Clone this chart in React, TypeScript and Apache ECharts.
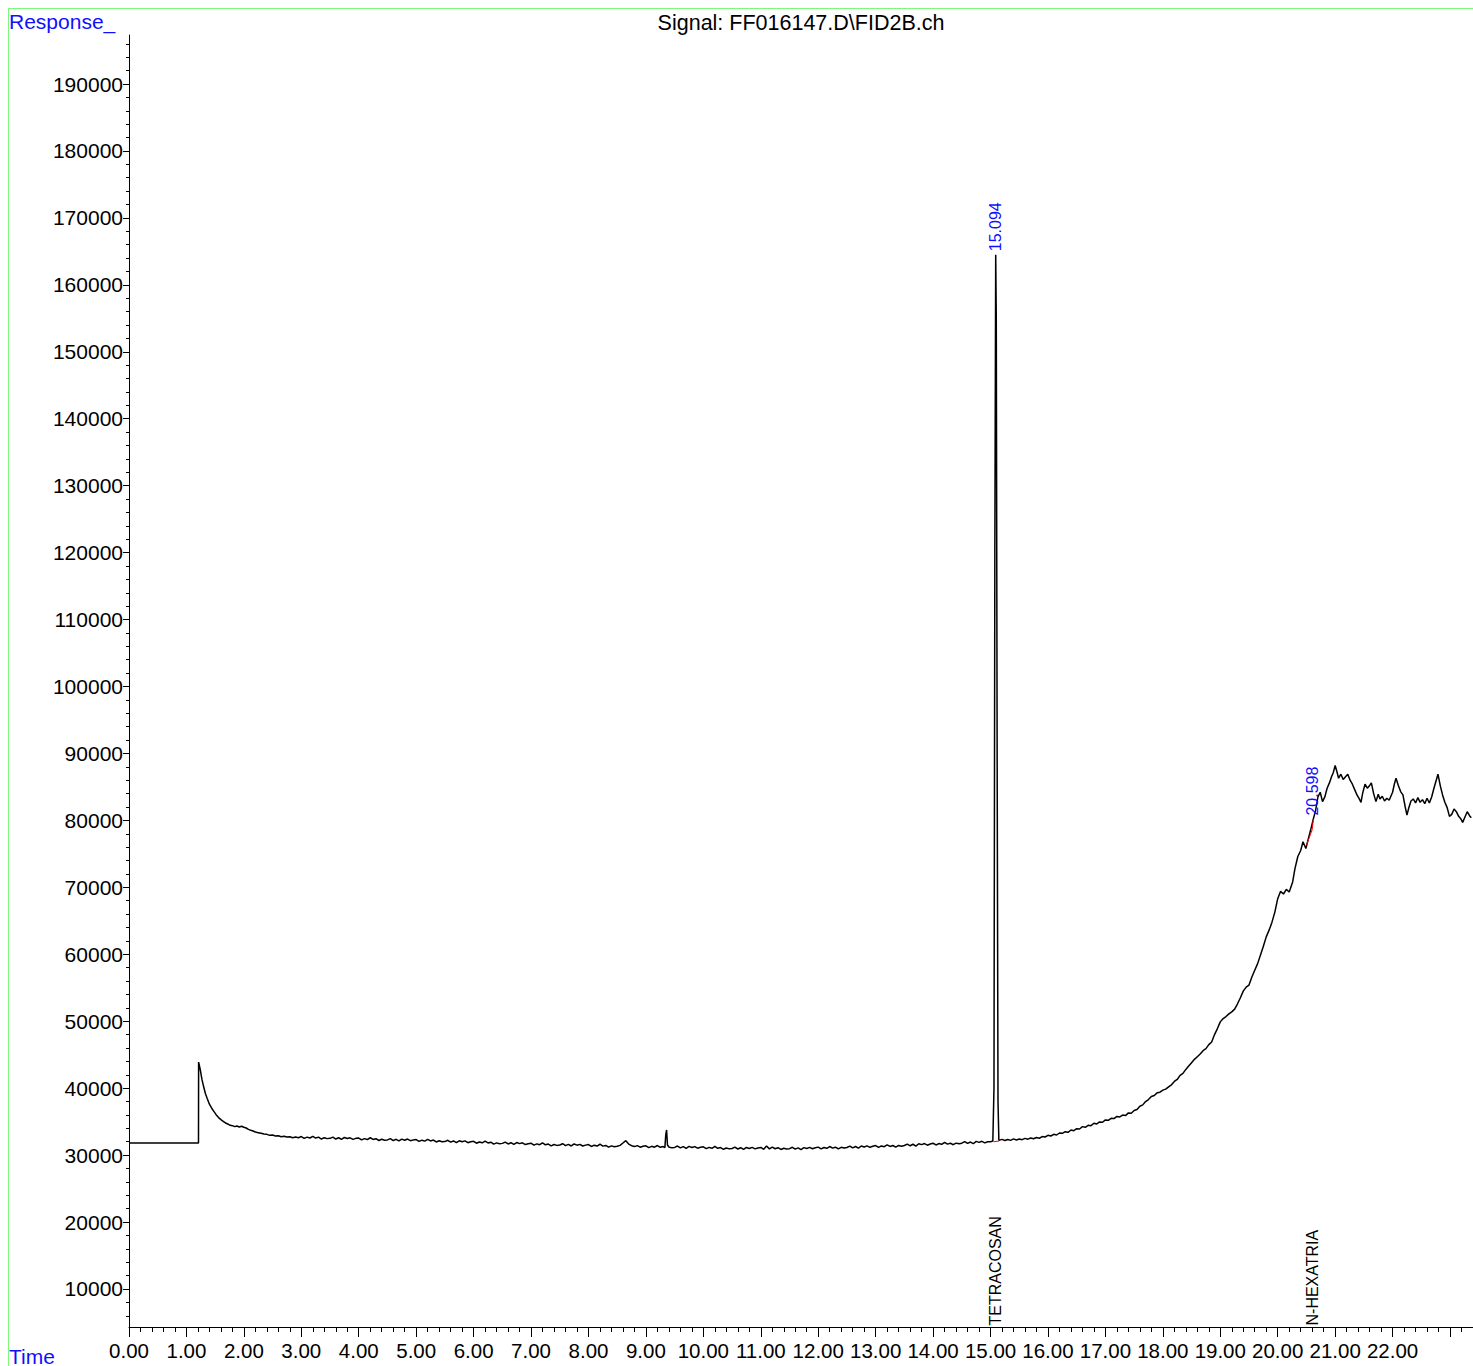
import React, { useEffect, useRef } from 'react';
import * as echarts from 'echarts';

// Retention time (min) and detector response
const times: number[] = [
  0, 1.21, 1.212, 1.24, 1.27, 1.30, 1.33, 1.36, 1.40, 1.44, 1.48, 1.52, 1.56, 1.60, 1.64, 1.68, 1.72, 1.76, 1.80, 1.84,
  1.88, 1.92, 1.96, 2.00, 2.04, 2.08, 2.12, 2.16, 2.20, 2.25, 2.30, 2.35, 2.40, 2.45, 2.50, 2.55, 2.60, 2.65, 2.70, 2.75,
  2.80, 2.85, 2.90, 2.95,
  3.00, 3.05, 3.10, 3.15, 3.20, 3.25, 3.30, 3.35, 3.40, 3.45,
  3.50, 3.55, 3.60, 3.65, 3.70, 3.75, 3.80, 3.85, 3.90, 3.95,
  4.00, 4.05, 4.10, 4.15, 4.20, 4.25, 4.30, 4.35, 4.40, 4.45,
  4.50, 4.55, 4.60, 4.65, 4.70, 4.75, 4.80, 4.85, 4.90, 4.95,
  5.00, 5.05, 5.10, 5.15, 5.20, 5.25, 5.30, 5.35, 5.40, 5.45,
  5.50, 5.55, 5.60, 5.65, 5.70, 5.75, 5.80, 5.85, 5.90, 5.95,
  6.00, 6.05, 6.10, 6.15, 6.20, 6.25, 6.30, 6.35, 6.40, 6.45,
  6.50, 6.55, 6.60, 6.65, 6.70, 6.75, 6.80, 6.85, 6.90, 6.95,
  7.00, 7.05, 7.10, 7.15, 7.20, 7.25, 7.30, 7.35, 7.40, 7.45,
  7.50, 7.55, 7.60, 7.65, 7.70, 7.75, 7.80, 7.85, 7.90, 7.95,
  8.00, 8.05, 8.10, 8.15, 8.20, 8.25, 8.30, 8.35, 8.40, 8.45,
  8.50, 8.55, 8.60, 8.65, 8.70, 8.75, 8.80, 8.85, 8.90, 8.95,
  9.00, 9.05, 9.10, 9.15, 9.20, 9.25, 9.30, 9.33, 9.345, 9.36, 9.375, 9.40, 9.45,
  9.50, 9.55, 9.60, 9.65, 9.70, 9.75, 9.80, 9.85, 9.90, 9.95,
  10.00, 10.05, 10.10, 10.15, 10.20, 10.25, 10.30, 10.35, 10.40, 10.45,
  10.50, 10.55, 10.60, 10.65, 10.70, 10.75, 10.80, 10.85, 10.90, 10.95,
  11.00, 11.05, 11.10, 11.15, 11.20, 11.25, 11.30, 11.35, 11.40, 11.45,
  11.50, 11.55, 11.60, 11.65, 11.70, 11.75, 11.80, 11.85, 11.90, 11.95,
  12.00, 12.05, 12.10, 12.15, 12.20, 12.25, 12.30, 12.35, 12.40, 12.45,
  12.50, 12.55, 12.60, 12.65, 12.70, 12.75, 12.80, 12.85, 12.90, 12.95,
  13.00, 13.05, 13.10, 13.15, 13.20, 13.25, 13.30, 13.35, 13.40, 13.45,
  13.50, 13.55, 13.60, 13.65, 13.70, 13.75, 13.80, 13.85, 13.90, 13.95,
  14.00, 14.05, 14.10, 14.15, 14.20, 14.25, 14.30, 14.35, 14.40, 14.45,
  14.50, 14.55, 14.60, 14.65, 14.70, 14.75, 14.80, 14.85, 14.90, 14.95,
  15.00, 15.04, 15.06, 15.075, 15.09, 15.10, 15.115, 15.13, 15.145,
  15.20, 15.25, 15.30, 15.35, 15.40, 15.45, 15.50, 15.55, 15.60, 15.65,
  15.70, 15.75, 15.80, 15.85, 15.90, 15.95, 16.00, 16.05, 16.10, 16.15,
  16.20, 16.25, 16.30, 16.35, 16.40, 16.45, 16.50, 16.55, 16.60, 16.65,
  16.70, 16.75, 16.80, 16.85, 16.90, 16.95, 17.00, 17.05, 17.10, 17.15,
  17.20, 17.25, 17.30, 17.35, 17.40, 17.45, 17.50, 17.55, 17.60, 17.65,
  17.70, 17.75, 17.80, 17.85, 17.90, 17.95, 18.00, 18.05, 18.10, 18.15,
  18.20, 18.25, 18.30, 18.35, 18.40, 18.45, 18.50, 18.55, 18.60, 18.65,
  18.70, 18.75, 18.80, 18.85, 18.90, 18.95, 19.00, 19.05, 19.10, 19.15,
  19.20, 19.25, 19.30, 19.35, 19.40, 19.45, 19.50, 19.55, 19.60, 19.65,
  19.70, 19.75, 19.80, 19.85, 19.90, 19.95, 20.00, 20.05, 20.10, 20.15,
  20.20, 20.26, 20.30, 20.35, 20.40, 20.44,
  20.49, 20.54, 20.58, 20.62, 20.66, 20.7, 20.74, 20.78, 20.82, 20.86, 20.9, 20.94, 20.97, 21.0, 21.03, 21.06, 21.1, 21.14, 21.18, 21.22,
  21.26, 21.3, 21.34, 21.38, 21.42, 21.45, 21.48, 21.52, 21.56, 21.6, 21.63, 21.67, 21.71, 21.75, 21.78, 21.82, 21.86, 21.9, 21.94, 21.97,
  22.0, 22.03, 22.06, 22.1, 22.14, 22.18, 22.22, 22.25, 22.28, 22.32, 22.36, 22.4, 22.44, 22.48, 22.52, 22.56, 22.6, 22.64, 22.68, 22.72,
  22.76, 22.79, 22.83, 22.87, 22.91, 22.95, 22.99, 23.03, 23.07, 23.11, 23.15, 23.19, 23.22, 23.26, 23.3, 23.34, 23.37,
];

const responses: number[] = [
  31800, 31800, 43900, 42800, 41300, 40200, 39200, 38500, 37600, 37000, 36500, 36000, 35600, 35300, 35050, 34800, 34650, 34450, 34400, 34250,
  34350, 34200, 34300, 34150, 34050, 33850, 33700, 33600, 33450, 33350, 33250, 33150, 33100, 32950, 33000, 32850, 32900, 32750, 32800, 32700,
  32750, 32600, 32700, 32600,
  32770, 32490, 32680, 32550, 32800, 32540, 32680, 32400, 32600, 32460,
  32500, 32690, 32400, 32590, 32340, 32630, 32480, 32580, 32350, 32500,
  32550, 32270, 32460, 32320, 32590, 32340, 32450, 32180, 32360, 32230,
  32270, 32460, 32170, 32360, 32110, 32390, 32220, 32400, 32150, 32270,
  32320, 32040, 32230, 32090, 32350, 32110, 32250, 31960, 32140, 32000,
  32020, 32210, 31930, 32110, 31860, 32140, 31990, 32120, 31850, 31990,
  32050, 31770, 31960, 31830, 32090, 31810, 31920, 31640, 31820, 31690,
  31750, 31940, 31660, 31850, 31600, 31880, 31710, 31830, 31570, 31700,
  31770, 31490, 31680, 31550, 31820, 31540, 31650, 31380, 31580, 31450,
  31510, 31700, 31420, 31610, 31360, 31660, 31480, 31600, 31360, 31490,
  31570, 31290, 31480, 31350, 31620, 31340, 31440, 31180, 31380, 31250,
  31310, 31450, 31800, 32150, 31650, 31400, 31270, 31420, 31180, 31330,
  31390, 31120, 31310, 31180, 31430, 31160, 31280, 31100, 33000, 33750, 31500, 31200, 31080,
  31150, 31350, 31070, 31260, 31010, 31300, 31130, 31270, 31030, 31170,
  31230, 30960, 31150, 31020, 31290, 31010, 31130, 30870, 31060, 30930,
  30990, 31190, 30910, 31100, 30850, 31140, 30990, 31160, 30930, 31070,
  31140, 30870, 31350, 30930, 31200, 30950, 31100, 30840, 31030, 30900,
  30960, 31170, 30890, 31080, 30830, 31120, 30990, 31160, 30950, 31100,
  31190, 30920, 31130, 31010, 31280, 31040, 31180, 30940, 31160, 31050,
  31140, 31350, 31080, 31280, 31040, 31360, 31220, 31380, 31160, 31320,
  31420, 31160, 31370, 31260, 31540, 31290, 31430, 31200, 31440, 31330,
  31430, 31650, 31390, 31620, 31350, 31690, 31560, 31720, 31480, 31650,
  31770, 31510, 31720, 31610, 31890, 31640, 31780, 31550, 31790, 31680,
  31780, 32000, 31740, 31950, 31700, 32050, 31900, 32060, 31830, 31990,
  32000, 32100, 40000, 120000, 164500, 155000, 90000, 38000, 32200,
  32350, 32180, 32330, 32200, 32420, 32260, 32400, 32300, 32500, 32380,
  32560, 32440, 32620, 32520, 32760, 32700, 32950, 32850, 33100, 33000,
  33300, 33250, 33500, 33400, 33750, 33650, 33950, 33900, 34250, 34150,
  34450, 34400, 34750, 34650, 34950, 34900, 35250, 35200, 35500, 35450,
  35780, 35700, 35980, 35900, 36300, 36250, 36650, 36800, 37300, 37500,
  38000, 38300, 38750, 38900, 39300, 39400, 39700, 39850, 40200, 40500,
  41000, 41300, 41900, 42200, 42800, 43300, 43800, 44300, 44700, 45100,
  45600, 45900, 46500, 46900, 48000, 48900, 49900, 50400, 50700, 51100,
  51400, 51800, 52600, 53500, 54500, 55100, 55400, 56600, 57600, 58600,
  59900, 61200, 62600, 63600, 64800, 66300, 68300, 69400, 69000, 69700,
  69300, 70800, 72800, 74600, 75500, 76800,
  75800, 77500, 78800, 80200, 81500, 83500, 84200, 82800, 83500, 84800, 85600, 86600, 87200, 88200, 87300, 86300, 86900, 86100, 86500, 86900,
  86000, 85400, 84600, 83800, 83200, 82700, 84100, 85400, 84800, 85200, 85600, 84000, 82800, 83900, 83200, 83600, 82900, 83300, 83000, 83600,
  84200, 85400, 86300, 85200, 84300, 83800, 82000, 80800, 81800, 82900, 83200, 82600, 83400, 82700, 83100, 82500, 83300, 82600, 83500, 84800,
  86000, 86900, 85200, 83800, 82700, 81900, 80600, 80900, 81700, 81300, 80600, 80200, 79700, 80500, 81300, 80700, 80400,
];

// Integration baselines (red)
const baselineTimes: (number | null)[] = [15.05, 15.15, null, 20.5, 20.6, 20.62];
const baselineValues: (number | null)[] = [31990, 32100, null, 76300, 78600, 80200];

// Peak annotations
const peakTimes: number[] = [15.094, 20.598];
const peakHeights: number[] = [164500, 80200];
const peakLabels: string[] = ['15.094', '20.598'];
const compoundNames: string[] = ['TETRACOSAN', 'N-HEXATRIA'];

const xMajorTicks: number[] = [0, 1, 2, 3, 4, 5, 6, 7, 8, 9, 10, 11, 12, 13, 14, 15, 16, 17, 18, 19, 20, 21, 22, 23];
const xLabelValues: number[] = [0, 1, 2, 3, 4, 5, 6, 7, 8, 9, 10, 11, 12, 13, 14, 15, 16, 17, 18, 19, 20, 21, 22];
const yMajorTicks: number[] = [10000, 20000, 30000, 40000, 50000, 60000, 70000, 80000, 90000, 100000,
  110000, 120000, 130000, 140000, 150000, 160000, 170000, 180000, 190000];

const X_MIN = 0;
const X_MAX = 23.4;
const Y_MIN = 4320;
const Y_MAX = 197320;

const FONT = '"Liberation Sans", Arial, sans-serif';
const BLUE = '#1010ff';

export default function App() {
  const ref = useRef<HTMLDivElement>(null);

  useEffect(() => {
    if (!ref.current) return;
    const chart = echarts.init(ref.current, null, { renderer: 'svg' });

    const xMinor: number[] = [];
    for (let k = 1; k * 0.2 < X_MAX; k++) {
      if (k % 5 !== 0) xMinor.push(Math.round(k * 0.2 * 100) / 100);
    }
    const yMinor: number[] = [];
    for (let v = 6000; v < Y_MAX; v += 2000) {
      if (v % 10000 !== 0) yMinor.push(v);
    }

    const traceData = times.map((t, i) => [t, responses[i]]);
    const baseData = baselineTimes.map((t, i) => (t === null ? [null, null] : [t, baselineValues[i]]));
    const peakData = peakTimes.map((t, i) => ({ value: [t, peakHeights[i]], name: peakLabels[i] }));
    const nameData = peakTimes.map((t, i) => ({ value: [t, Y_MIN], name: compoundNames[i] }));

    const labelBase = {
      show: true,
      position: 'top',
      rotate: 90,
      align: 'left',
      verticalAlign: 'middle',
      formatter: '{b}',
      fontSize: 16,
      fontFamily: FONT,
      opacity: 1,
    };

    chart.setOption({
      animation: false,
      backgroundColor: '#ffffff',
      textStyle: { fontFamily: FONT },
      grid: { left: 129, top: 35, width: 1344, height: 1292, containLabel: false },
      xAxis: [
        {
          type: 'value',
          min: X_MIN,
          max: X_MAX,
          position: 'bottom',
          axisLine: { show: true, lineStyle: { color: '#000', width: 1 } },
          axisTick: { show: true, customValues: xMajorTicks, length: 10, lineStyle: { color: '#000' } },
          axisLabel: {
            show: true,
            customValues: xLabelValues,
            formatter: (v: number) => v.toFixed(2),
            fontSize: 20.5,
            color: '#000',
            margin: 13,
            fontFamily: FONT,
            hideOverlap: false,
          },
          splitLine: { show: false },
        },
        {
          type: 'value',
          min: X_MIN,
          max: X_MAX,
          position: 'bottom',
          axisLine: { show: false },
          axisTick: { show: true, customValues: xMinor, length: 5, lineStyle: { color: '#000' } },
          axisLabel: { show: false },
          splitLine: { show: false },
        },
      ],
      yAxis: [
        {
          type: 'value',
          min: Y_MIN,
          max: Y_MAX,
          position: 'left',
          axisLine: { show: true, lineStyle: { color: '#000', width: 1 } },
          axisTick: { show: true, customValues: yMajorTicks, length: 6, lineStyle: { color: '#000' } },
          axisLabel: {
            show: true,
            customValues: yMajorTicks,
            fontSize: 21,
            color: '#000',
            margin: 6,
            fontFamily: FONT,
            formatter: (v: number) => String(v),
          },
          splitLine: { show: false },
        },
        {
          type: 'value',
          min: Y_MIN,
          max: Y_MAX,
          position: 'left',
          axisLine: { show: false },
          axisTick: { show: true, customValues: yMinor, length: 3, lineStyle: { color: '#000' } },
          axisLabel: { show: false },
          splitLine: { show: false },
        },
      ],
      graphic: [
        { type: 'line', shape: { x1: 8.5, y1: 8, x2: 8.5, y2: 1366 }, style: { stroke: '#7ef77e', lineWidth: 1 }, silent: true },
        { type: 'line', shape: { x1: 8, y1: 8.5, x2: 1473, y2: 8.5 }, style: { stroke: '#7ef77e', lineWidth: 1 }, silent: true },
        {
          type: 'text', x: 801, y: 23,
          style: { text: 'Signal: FF016147.D\\FID2B.ch', font: `21.5px ${FONT}`, fill: '#000', textAlign: 'center', textVerticalAlign: 'middle', align: 'center', verticalAlign: 'middle' },
        },
        {
          type: 'text', x: 9, y: 21,
          style: { text: 'Response_', font: `21px ${FONT}`, fill: BLUE, textAlign: 'left', textVerticalAlign: 'middle', align: 'left', verticalAlign: 'middle' },
        },
        {
          type: 'text', x: 9, y: 1356,
          style: { text: 'Time', font: `21px ${FONT}`, fill: BLUE, textAlign: 'left', textVerticalAlign: 'middle', align: 'left', verticalAlign: 'middle' },
        },
      ],
      series: [
        {
          type: 'line',
          xAxisIndex: 0,
          yAxisIndex: 0,
          data: traceData,
          showSymbol: false,
          symbol: 'none',
          lineStyle: { color: '#000', width: 1.5 },
          z: 3,
        },
        {
          type: 'line',
          xAxisIndex: 0,
          yAxisIndex: 0,
          data: baseData,
          connectNulls: false,
          showSymbol: false,
          symbol: 'none',
          lineStyle: { color: '#ff0000', width: 1 },
          z: 4,
        },
        {
          type: 'scatter',
          xAxisIndex: 0,
          yAxisIndex: 0,
          data: peakData,
          symbolSize: 1,
          itemStyle: { color: 'rgba(0,0,0,0)', opacity: 1 },
          label: { ...labelBase, distance: 3, color: BLUE },
          emphasis: { disabled: true },
          z: 5,
        },
        {
          type: 'scatter',
          xAxisIndex: 0,
          yAxisIndex: 0,
          data: nameData,
          symbolSize: 1,
          itemStyle: { color: 'rgba(0,0,0,0)', opacity: 1 },
          label: { ...labelBase, distance: 1, color: '#000' },
          emphasis: { disabled: true },
          z: 5,
        },
      ],
    });

    return () => chart.dispose();
  }, []);

  return (
    <div
      ref={ref}
      style={{ position: 'absolute', left: 0, top: 0, width: 1473, height: 1366, background: '#fff', overflow: 'hidden' }}
    />
  );
}
